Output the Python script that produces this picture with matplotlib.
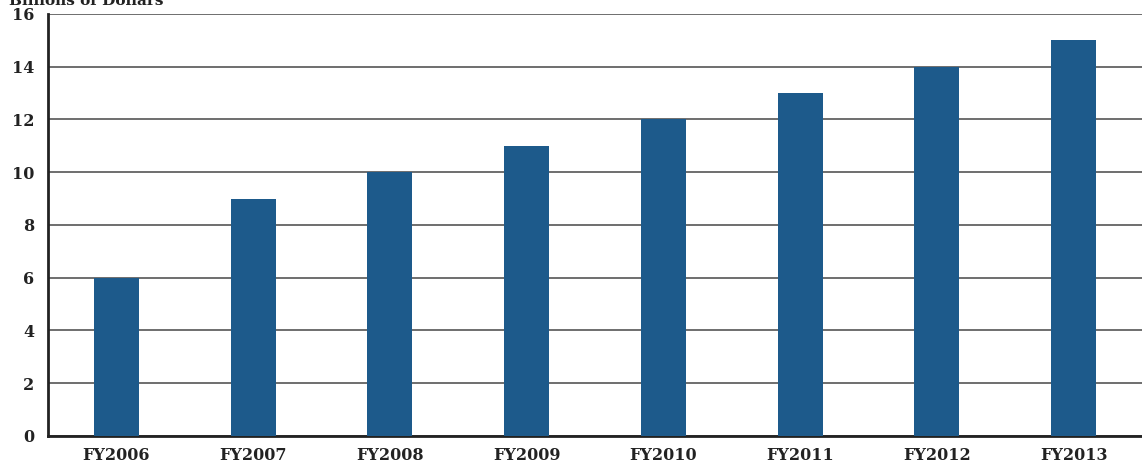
import matplotlib
matplotlib.use('Agg')
import matplotlib.pyplot as plt

years = ['FY2006', 'FY2007', 'FY2008', 'FY2009', 'FY2010', 'FY2011', 'FY2012', 'FY2013']
billions = [6, 9, 10, 11, 12, 13, 14, 15]
y_ticks = [0, 2, 4, 6, 8, 10, 12, 14, 16]

plt.rcParams['font.family'] = ['DejaVu Serif']

fig = plt.figure(figsize=(11.42, 4.66), dpi=100)
ax = fig.add_axes([0.042, 0.0644, 0.958, 0.9056])

x = range(len(years))
ax.bar(x, billions, width=0.33, color='#1d5a8b', zorder=3)

ax.set_xlim(-0.5, len(years) - 0.5)
ax.set_ylim(0, 16)
ax.set_yticks(y_ticks)
ax.set_yticklabels([str(v) for v in y_ticks], fontsize=11.5, fontweight='bold', color='#222222')
ax.set_xticks(list(x))
ax.set_xticklabels(years, fontsize=11.5, fontweight='bold', color='#222222')
ax.tick_params(axis='both', length=0, pad=8)
ax.tick_params(axis='y', pad=10)

ax.yaxis.grid(True, color='#555555', linewidth=1.2, zorder=0)
ax.set_axisbelow(True)
for s in ['top', 'right']:
    ax.spines[s].set_visible(False)
for s in ['left', 'bottom']:
    ax.spines[s].set_linewidth(2)
    ax.spines[s].set_color('#222222')

# the reference cuts this label at the top edge
fig.text(0.008, 0.998, 'Billions of Dollars', fontsize=11, fontweight='bold',
         color='#222222', va='center', ha='left')

fig.savefig('out.png', dpi=100)
